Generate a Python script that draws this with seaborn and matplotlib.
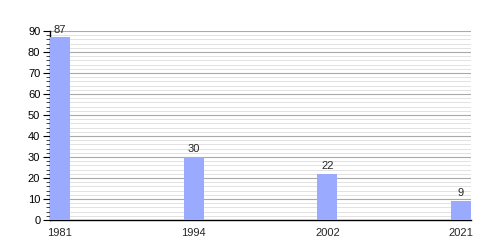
import matplotlib
matplotlib.use("Agg")
import matplotlib.pyplot as plt
import seaborn as sns
import pandas as pd
from matplotlib.ticker import MultipleLocator

years = ["1981", "1994", "2002", "2021"]
values = [87, 30, 22, 9]

df = pd.DataFrame({"year": years, "value": values})

sns.set_style("white")
plt.rcParams['font.family'] = ['Liberation Sans', 'DejaVu Sans']

fig = plt.figure(figsize=(5, 2.5), dpi=100)
ax = fig.add_axes([0.1, 0.12, 0.842, 0.756])

sns.barplot(data=df, x="year", y="value", color="#99aaff", saturation=1,
            width=0.15, ax=ax, zorder=3, linewidth=0, edgecolor="none")

ax.set_xlim(-0.075, 3.075)
ax.set_ylim(0, 90)
ax.yaxis.set_major_locator(MultipleLocator(10))
ax.yaxis.set_minor_locator(MultipleLocator(2))
ax.grid(which="major", axis="y", color="#aaaaaa", linewidth=0.8, zorder=0)
ax.grid(which="minor", axis="y", color="#dddddd", linewidth=0.6, zorder=0)
ax.set_axisbelow(True)

for s in ["top", "right"]:
    ax.spines[s].set_visible(False)
for s in ["left", "bottom"]:
    ax.spines[s].set_color("black")
    ax.spines[s].set_linewidth(1)

ax.tick_params(axis="y", which="major", left=True, length=5, width=0.8,
               labelsize=8, pad=2, colors="black")
ax.tick_params(axis="y", which="minor", left=True, length=3, width=0.6)
ax.tick_params(axis="x", bottom=False, labelsize=8, pad=2)
ax.set_xlabel("")
ax.set_ylabel("")

for i, v in enumerate(values):
    ax.annotate(str(v), (i, v), xytext=(0, 2), textcoords="offset points",
                ha="center", va="bottom", fontsize=8)

fig.savefig("out.png", dpi=100)
